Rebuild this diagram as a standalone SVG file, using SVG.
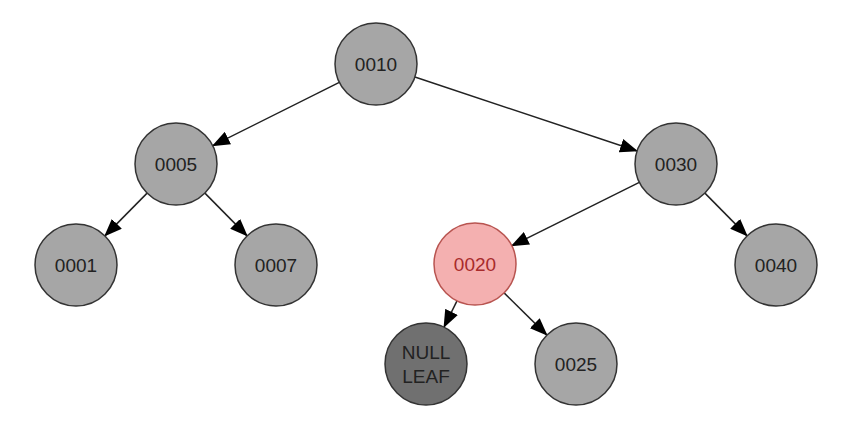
<svg xmlns="http://www.w3.org/2000/svg" width="844" height="426" viewBox="0 0 844 426">
<defs>
<marker id="arr" markerWidth="18" markerHeight="14" refX="17" refY="7" orient="auto" markerUnits="userSpaceOnUse">
<path d="M0,0 L18,7 L0,14 z" fill="#000"/>
</marker>
<style>
.n{fill:#a6a6a6;stroke:#333;stroke-width:1.5}
.r{fill:#f4b0b0;stroke:#b85450;stroke-width:1.5}
.d{fill:#707070;stroke:#333;stroke-width:1.5}
.t{font-family:"Liberation Sans",Arial,sans-serif;font-size:19px;fill:#222;text-anchor:middle;dominant-baseline:central}
.rt{fill:#a82b2b}
.e{stroke:#222;stroke-width:1.5;fill:none;marker-end:url(#arr)}
</style>
</defs>
<rect width="844" height="426" fill="#fff"/>
<g id="connectors">
<line class="e" x1="339.3" y1="82.3" x2="212.7" y2="145.7"/>
<line class="e" x1="414.9" y1="77" x2="637.1" y2="151"/>
<line class="e" x1="147.1" y1="193.1" x2="104.9" y2="235.9"/>
<line class="e" x1="204.9" y1="193.1" x2="247.1" y2="235.9"/>
<line class="e" x1="639.3" y1="182.3" x2="511.7" y2="245.8"/>
<line class="e" x1="704.9" y1="193.1" x2="747.1" y2="235.9"/>
<line class="e" x1="457" y1="300.8" x2="444" y2="327.2"/>
<line class="e" x1="504.1" y1="292.9" x2="546.9" y2="335.1"/>
</g>
<g id="n0010"><circle class="n" cx="376" cy="64" r="41"/><text class="t" x="376" y="64">0010</text></g>
<g id="n0005"><circle class="n" cx="176" cy="164" r="41"/><text class="t" x="176" y="164">0005</text></g>
<g id="n0030"><circle class="n" cx="676" cy="164" r="41"/><text class="t" x="676" y="164">0030</text></g>
<g id="n0001"><circle class="n" cx="76" cy="265" r="41"/><text class="t" x="76" y="265">0001</text></g>
<g id="n0007"><circle class="n" cx="276" cy="265" r="41"/><text class="t" x="276" y="265">0007</text></g>
<g id="n0020"><circle class="r" cx="475" cy="264" r="41"/><text class="t rt" x="475" y="264">0020</text></g>
<g id="n0040"><circle class="n" cx="776" cy="265" r="41"/><text class="t" x="776" y="265">0040</text></g>
<g id="nnull"><circle class="d" cx="426" cy="364" r="41"/><text class="t" x="426" y="352">NULL</text><text class="t" x="426" y="376">LEAF</text></g>
<g id="n0025"><circle class="n" cx="576" cy="364" r="41"/><text class="t" x="576" y="364">0025</text></g>
</svg>
